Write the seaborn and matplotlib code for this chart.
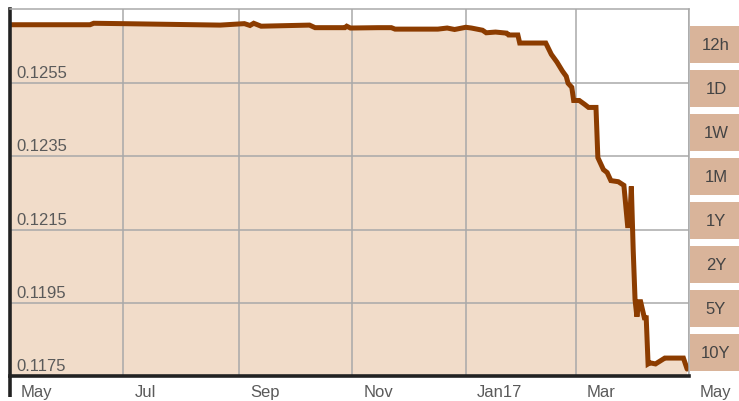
import pandas as pd
import numpy as np
import matplotlib
matplotlib.use("Agg")
import matplotlib.pyplot as plt
import matplotlib.transforms as mtransforms
from matplotlib.patches import Rectangle
from matplotlib.lines import Line2D
import seaborn as sns

# --- data ---
dates = ['2016-05-01', '2016-06-13', '2016-06-15', '2016-06-30', '2016-08-22', '2016-09-04',
         '2016-09-07', '2016-09-09', '2016-09-13', '2016-10-09', '2016-10-12', '2016-10-28',
         '2016-10-29', '2016-10-31', '2016-11-15', '2016-11-22', '2016-11-24', '2016-12-17',
         '2016-12-22', '2016-12-26', '2017-01-01', '2017-01-04', '2017-01-10', '2017-01-12',
         '2017-01-17', '2017-01-23', '2017-01-24', '2017-01-29', '2017-01-30', '2017-02-13',
         '2017-02-16', '2017-02-19', '2017-02-22', '2017-02-24', '2017-02-25', '2017-02-27',
         '2017-02-28', '2017-03-03', '2017-03-06', '2017-03-08', '2017-03-12', '2017-03-13',
         '2017-03-15', '2017-03-16', '2017-03-18', '2017-03-20', '2017-03-24', '2017-03-27',
         '2017-03-29', '2017-03-30', '2017-03-31', '2017-04-01', '2017-04-02', '2017-04-03',
         '2017-04-04', '2017-04-05', '2017-04-07', '2017-04-08', '2017-04-09', '2017-04-10',
         '2017-04-13', '2017-04-18', '2017-04-19', '2017-04-28', '2017-04-30']
values = [0.12710, 0.12710, 0.12714, 0.12713, 0.12709, 0.12713,
          0.12708, 0.12714, 0.12706, 0.12709, 0.12702, 0.12702,
          0.12706, 0.12701, 0.12702, 0.12702, 0.12698, 0.12698,
          0.12701, 0.12697, 0.12703, 0.12701, 0.12695, 0.12688,
          0.12690, 0.12687, 0.12682, 0.12682, 0.12660, 0.12660,
          0.12629, 0.12608, 0.12583, 0.12569, 0.12550, 0.12539,
          0.12503, 0.12503, 0.12492, 0.12484, 0.12484, 0.12347,
          0.12325, 0.12314, 0.12306, 0.12284, 0.12281, 0.12271,
          0.12161, 0.12161, 0.12268, 0.12095, 0.11958, 0.11912,
          0.11953, 0.11953, 0.11909, 0.11909, 0.11783, 0.11786,
          0.11783, 0.11799, 0.11799, 0.11799, 0.11769]

ytick_vals = [0.1175, 0.1195, 0.1215, 0.1235, 0.1255]
ytick_labels = ['0.1175', '0.1195', '0.1215', '0.1235', '0.1255']
xtick_dates = ['2016-05-01', '2016-07-01', '2016-09-01', '2016-11-01',
               '2017-01-01', '2017-03-01', '2017-05-01']
xtick_labels = ['May', 'Jul', 'Sep', 'Nov', 'Jan17', 'Mar', 'May']
buttons = ['12h', '1D', '1W', '1M', '1Y', '2Y', '5Y', '10Y']

df = pd.DataFrame({'datum': pd.to_datetime(dates), 'kurz': values})

# --- styl ---
sns.set_style("white")
plt.rcParams['font.family'] = ['Liberation Sans', 'DejaVu Sans']

line_col = '#8c3c00'
fill_col = '#f1dcc9'
grid_col = '#a9a9a9'
text_col = '#5a5a5a'
btn_col = '#d9b49a'

W, H = 739, 402
fig = plt.figure(figsize=(W / 100, H / 100), dpi=100)
ax = fig.add_axes([10 / W, (H - 377) / H, 679 / W, 367 / H])

ax.fill_between(df['datum'], df['kurz'], 0.1, color=fill_col, lw=0, zorder=1)
sns.lineplot(data=df, x='datum', y='kurz', ax=ax, color=line_col, lw=3.6,
             zorder=3, solid_joinstyle='miter')

ax.set_xlim(pd.Timestamp('2016-05-01'), pd.Timestamp('2017-05-01'))
ax.set_ylim(0.1175, 0.12753)
ax.set_xlabel('')
ax.set_ylabel('')

# mrizka
ax.set_xticks(pd.to_datetime(xtick_dates))
ax.set_xticklabels(xtick_labels, fontsize=12, color=text_col, ha='left')
ax.set_yticks(ytick_vals)
ax.set_yticklabels([])
ax.grid(True, color=grid_col, lw=1.1, zorder=2)
ax.set_axisbelow(False)
for gl in ax.get_xgridlines() + ax.get_ygridlines():
    gl.set_zorder(2)

ax.tick_params(axis='x', length=14.5, width=1.1, color=grid_col, pad=-8.5)
ax.tick_params(axis='y', length=0)
off = mtransforms.ScaledTranslation(11 / 100, 0, fig.dpi_scale_trans)
for lab in ax.get_xticklabels():
    lab.set_transform(lab.get_transform() + off)

# popisky osy y uvnitr grafu
yoff = mtransforms.ScaledTranslation(0, 3 / 100, fig.dpi_scale_trans)
for v, t in zip(ytick_vals, ytick_labels):
    ax.text(6 / 679, v, t, transform=ax.get_yaxis_transform() + yoff, ha='left',
            va='bottom', fontsize=12, color=text_col, zorder=4)
    
# okraje
for s in ['top', 'right']:
    ax.spines[s].set_color(grid_col)
    ax.spines[s].set_linewidth(1.1)
ax.spines['left'].set_color('#222222')
ax.spines['left'].set_linewidth(2.6)
ax.spines['bottom'].set_color('#222222')
ax.spines['bottom'].set_linewidth(2.6)
for s in ax.spines.values():
    s.set_zorder(5)
fig.add_artist(Line2D([10 / W, 10 / W], [(H - 398) / H, (H - 377) / H],
                      color='#222222', lw=2.6, solid_capstyle='butt'))

# tlacitka vpravo
for i, b in enumerate(buttons):
    top = 27 + i * 44
    fig.add_artist(Rectangle((690 / W, (H - top - 37) / H), 49 / W, 37 / H,
                             transform=fig.transFigure, color=btn_col, lw=0))
    fig.text(716 / W, (H - top - 18.5) / H, b, ha='center', va='center',
             fontsize=12, color='#444444')

fig.savefig('out.png', dpi=100)
